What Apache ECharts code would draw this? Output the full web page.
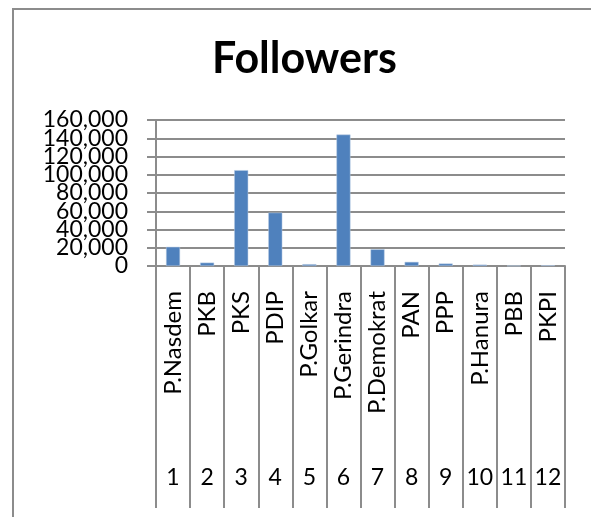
<!DOCTYPE html>
<html>
<head>
<meta charset="utf-8">
<script src="https://cdn.jsdelivr.net/npm/echarts@6/dist/echarts.min.js"></script>
<style>
  html, body { margin: 0; padding: 0; background: #fff; }
  #main { width: 591px; height: 517px; }
</style>
</head>
<body>
<div id="main"></div>
<script>
// data
let parties = ['P.Nasdem', 'PKB', 'PKS', 'PDIP', 'P.Golkar', 'P.Gerindra', 'P.Demokrat', 'PAN', 'PPP', 'P.Hanura', 'PBB', 'PKPI']
let numbers = ['1', '2', '3', '4', '5', '6', '7', '8', '9', '10', '11', '12']
let followers = [21000, 3700, 105000, 58500, 2000, 144000, 18300, 4500, 2700, 1500, 300, 800]
let yTicks = [0, 20000, 40000, 60000, 80000, 100000, 120000, 140000, 160000]

let grey = '#8c8c8c'
let font = 'Lato, "Open Sans", sans-serif'

let chart = echarts.init(document.getElementById('main'))

// the value labels are packed tighter than their font, so echarts would drop
// some of them; split them over two axes (even / odd ticks) to keep them all
function yLabels (parity) {
  return function (v) {
    let i = yTicks.indexOf(v)
    if (i % 2 !== parity) return ''
    return v.toLocaleString('en-US')
  }
}

let labelStyle = {
  margin: 28,
  color: '#000',
  fontFamily: font,
  fontSize: 23
}

let option = {
  backgroundColor: '#fff',
  animation: false,
  title: {
    text: 'Followers',
    left: 207,
    top: 33,
    textStyle: {
      fontFamily: font,
      fontSize: 43,
      fontWeight: 'bold',
      color: '#000'
    }
  },
  grid: {
    left: 156,
    right: 26,
    top: 120,
    bottom: 251
  },
  xAxis: [{
    type: 'category',
    data: parties,
    position: 'bottom',
    axisLine: {
      lineStyle: { color: grey, width: 2 }
    },
    axisTick: {
      show: true,
      interval: 0,
      length: 242,
      lineStyle: { color: grey, width: 2 }
    },
    axisLabel: {
      interval: 0,
      rotate: 90,
      margin: 25,
      color: '#000',
      fontFamily: font,
      fontSize: 24
    }
  }, {
    type: 'category',
    data: numbers,
    position: 'bottom',
    axisLine: { show: false },
    axisTick: { show: false },
    axisLabel: {
      interval: 0,
      margin: 212,
      verticalAlign: 'middle',
      color: '#000',
      fontFamily: font,
      fontSize: 23
    }
  }],
  yAxis: [{
    type: 'value',
    position: 'left',
    min: yTicks[0],
    max: yTicks[yTicks.length - 1],
    interval: yTicks[1] - yTicks[0],
    axisLine: {
      show: true,
      lineStyle: { color: grey, width: 2 }
    },
    axisTick: {
      show: true,
      length: 9,
      lineStyle: { color: grey, width: 2 }
    },
    splitLine: {
      lineStyle: { color: grey, width: 2 }
    },
    axisLabel: Object.assign({ formatter: yLabels(0) }, labelStyle)
  }, {
    type: 'value',
    position: 'left',
    min: yTicks[0],
    max: yTicks[yTicks.length - 1],
    interval: yTicks[1] - yTicks[0],
    axisLine: { show: false },
    axisTick: { show: false },
    splitLine: { show: false },
    axisLabel: Object.assign({ formatter: yLabels(1) }, labelStyle)
  }],
  // outer frame of the chart area
  graphic: [{
    type: 'rect',
    shape: { x: 13, y: 9, width: 620, height: 560 },
    style: { fill: null, stroke: grey, lineWidth: 2 },
    silent: true
  }],
  series: [{
    name: 'Followers',
    type: 'bar',
    data: followers,
    barWidth: 14,
    itemStyle: {
      color: '#4f81bd',
      borderColor: '#b9cde5',
      borderWidth: 0.5
    }
  }]
}

chart.setOption(option)
</script>
</body>
</html>
